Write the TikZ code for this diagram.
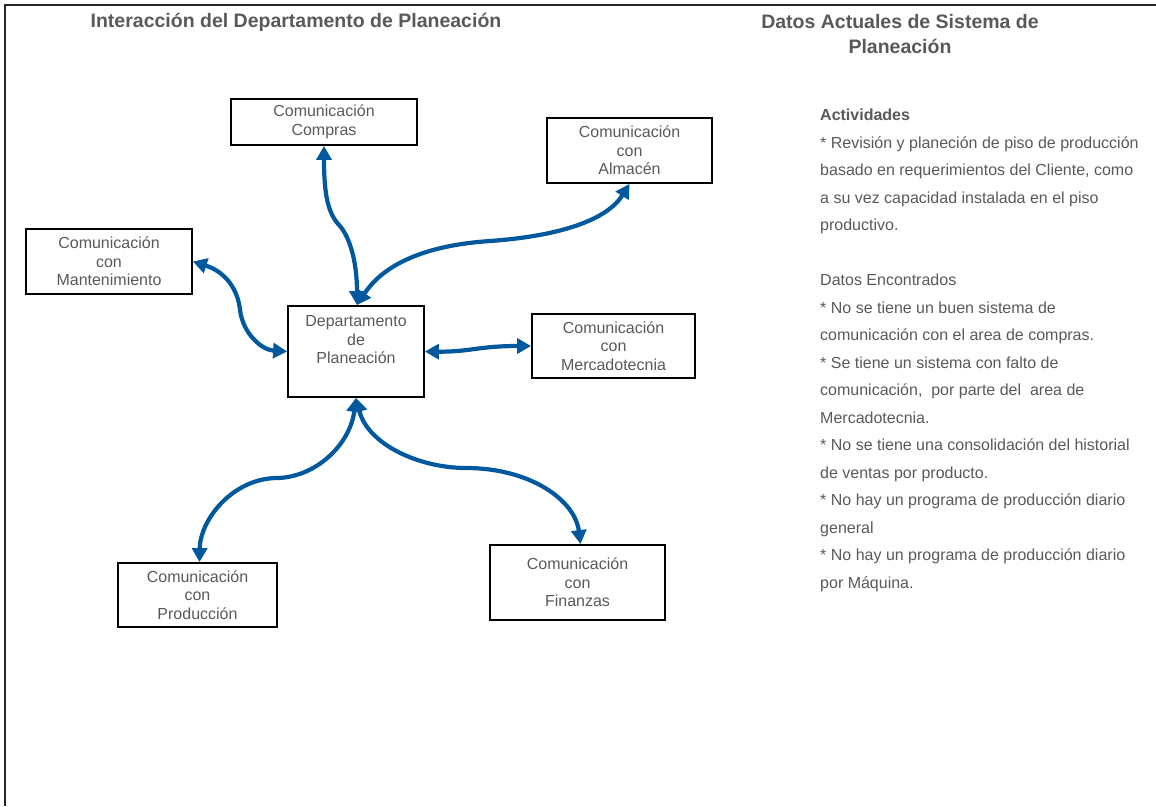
\documentclass[tikz,border=0pt]{standalone}
\usepackage{fontspec}
\setmainfont{Liberation Sans}
\usetikzlibrary{arrows.meta}
\definecolor{inkgray}{RGB}{89,89,89}
\definecolor{linkblue}{RGB}{0,88,158}
\begin{document}
\begin{tikzpicture}[x=1pt,y=-1pt,
  box/.style={draw=black, line width=1.8pt, rectangle, align=center, inner sep=0pt,
    text=inkgray, font={\fontsize{16}{18.5}\selectfont}},
  boxtext/.style={align=center, inner sep=0pt, text=inkgray, font={\fontsize{16}{18.5}\selectfont}},
  heading/.style={align=center, inner sep=0pt, text=inkgray, font={\fontsize{19.5}{25}\selectfont\bfseries}},
  link/.style={draw=linkblue, line width=4.2pt, {Triangle[length=14pt,width=15pt]}-{Triangle[length=14pt,width=15pt]}}]
\useasboundingbox (0,0) rectangle (1156,806);
% page frame (open at right and bottom)
\draw[line width=2pt, black!85] (5,806) -- (5,5) -- (1156,5);

% headings
\node[heading] (lefttitle) at (296,22) {Interacción del Departamento de Planeación};
\node[heading] (righttitle) at (900,34.5) {Datos Actuales de Sistema de\\Planeación};

% boxes
\node[box, minimum width=186pt, minimum height=46pt] (compras) at (324,122) {Comunicación\\Compras};
\node[box, minimum width=165pt, minimum height=65pt] (almacen) at (629.5,150.5) {Comunicación\\con\\Almacén};
\node[box, minimum width=166pt, minimum height=65pt] (mant) at (109,261.5) {Comunicación\\con\\Mantenimiento};
\node[box, minimum width=136pt, minimum height=91pt] (dept) at (356,351.5) {};
\node[boxtext] (depttext) at (356,340) {Departamento\\de\\Planeación};
\node[box, minimum width=163pt, minimum height=64pt] (merc) at (613.5,346) {Comunicación\\con\\Mercadotecnia};
\node[box, minimum width=159pt, minimum height=64pt] (prod) at (197.5,595) {Comunicación\\con\\Producción};
\node[box, minimum width=175pt, minimum height=75pt] (fin) at (577.5,582.5) {Comunicación\\con\\Finanzas};

% connectors
\draw[link] (compras.south) .. controls (324,195) and (328,214) .. (340,226)
  .. controls (350,238) and (357,262) .. ([xshift=1pt]dept.north);
\draw[link] ([xshift=1pt]dept.north) .. controls (385,262) and (430,245) .. (490,241)
  .. controls (560,236) and (607,220) .. (almacen.south);
\draw[link] (mant.east) .. controls (226,272) and (238,290) .. (240,310)
  .. controls (243,334) and (262,350) .. (dept.west);
\draw[link] (dept.east) .. controls (470,352) and (478,346) .. (merc.west);
\draw[link] (dept.south) .. controls (350,445) and (315,478) .. (276,478)
  .. controls (232,479) and (200,520) .. ([xshift=2pt]prod.north);
\draw[link] (dept.south) .. controls (368,445) and (420,468) .. (466,468)
  .. controls (530,468) and (575,500) .. ([xshift=3pt]fin.north);

% notes column
\node[anchor=north west, align=left, inner sep=0pt, text=inkgray,
  font={\fontsize{16}{27.5}\selectfont}] (notes) at (820,109) {%
{\bfseries Actividades}\\
* Revisión y planeción de piso de producción\\
basado en requerimientos del Cliente, como\\
a su vez capacidad instalada en el piso\\
productivo.\\[27.5pt]
Datos Encontrados\\
* No se tiene un buen sistema de\\
comunicación con el area de compras.\\
* Se tiene un sistema con falto de\\
comunicación,\ \ por parte del\ \ area de\\
Mercadotecnia.\\
* No se tiene una consolidación del historial\\
de ventas por producto.\\
* No hay un programa de producción diario\\
general\\
* No hay un programa de producción diario\\
por Máquina.};
\end{tikzpicture}
\end{document}
